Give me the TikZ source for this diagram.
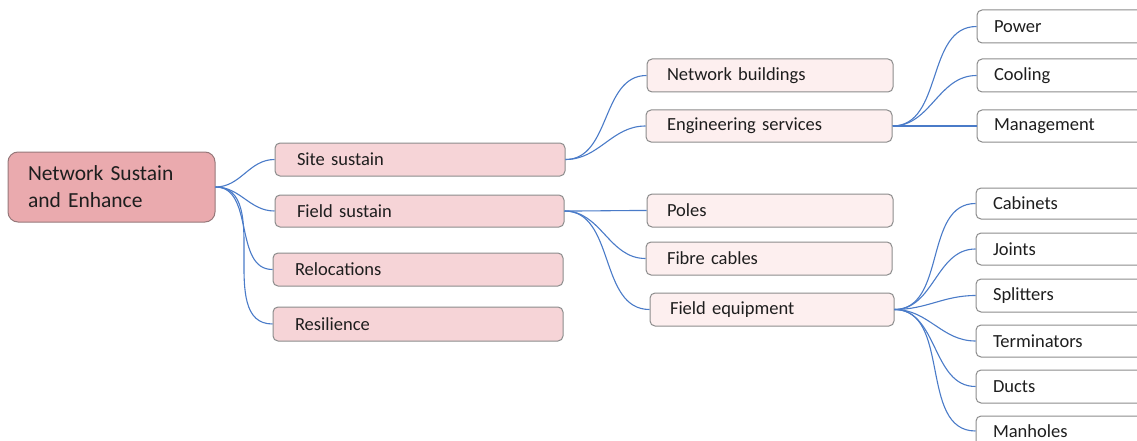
\documentclass[tikz,border=0pt]{standalone}
\usepackage{fontspec}
\setmainfont{Carlito}
\definecolor{rootfill}{RGB}{234,170,174}
\definecolor{rootdraw}{RGB}{150,120,122}
\definecolor{lonefill}{RGB}{246,212,215}
\definecolor{ltwofill}{RGB}{253,239,239}
\definecolor{boxdraw}{RGB}{140,140,140}
\definecolor{conncol}{RGB}{74,123,200}
\definecolor{txtcol}{RGB}{30,30,30}
\newcommand\boxnode[8]{%
  \pgfmathsetmacro\bw{#6-#4}\pgfmathsetmacro\bh{#7-#5}%
  \pgfmathsetmacro\bcx{(#4+#6)/2}\pgfmathsetmacro\bcy{(#5+#7)/2}%
  \pgfmathsetmacro\btw{#6-#4-2*#3}%
  \node[#2, inner xsep=#3pt, inner ysep=0pt, minimum width=\bw pt, minimum height=\bh pt, text width=\btw pt, align=left] (#1) at (\bcx,\bcy) {#8};}
\begin{document}
\begin{tikzpicture}[x=1pt,y=-1pt,
  basebox/.style={draw=boxdraw, line width=1pt, rounded corners=5pt, text=txtcol, font=\fontsize{18.5}{22}\selectfont},
  rootbox/.style={basebox, draw=rootdraw, fill=rootfill, rounded corners=10pt, font=\fontsize{21.5}{27}\selectfont},
  lonebox/.style={basebox, fill=lonefill},
  ltwobox/.style={basebox, fill=ltwofill},
  lthreebox/.style={basebox, fill=white},
  conn/.style={draw=conncol, line width=1.1pt}]
\useasboundingbox (0,0) rectangle (1137,441);
\clip (0,0) rectangle (1137,441);
\boxnode{root}{rootbox}{20}{8}{152}{215}{222}{Network Sustain\\and Enhance}
\boxnode{site}{lonebox}{22}{275}{143}{565}{176}{Site sustain}
\boxnode{field}{lonebox}{22}{275}{195}{564}{227}{Field sustain}
\boxnode{reloc}{lonebox}{22}{273}{253}{563}{286}{Relocations}
\boxnode{resil}{lonebox}{22}{273}{307}{563}{341}{Resilience}
\boxnode{netb}{ltwobox}{20}{647}{59}{893}{92}{Network buildings}
\boxnode{eng}{ltwobox}{21}{646}{110}{892}{142}{Engineering services}
\boxnode{poles}{ltwobox}{20}{647}{194}{893}{227}{Poles}
\boxnode{fibre}{ltwobox}{21}{646}{242}{892}{275}{Fibre cables}
\boxnode{fequip}{ltwobox}{20}{650}{293}{894}{326}{Field equipment}
\boxnode{power}{lthreebox}{17}{977}{10}{1190}{43}{Power}
\boxnode{cooling}{lthreebox}{17}{977}{59}{1190}{92}{Cooling}
\boxnode{mgmt}{lthreebox}{17}{977}{110}{1190}{142}{Management}
\boxnode{cab}{lthreebox}{17}{976}{188}{1190}{219}{Cabinets}
\boxnode{joints}{lthreebox}{17}{976}{233}{1190}{265}{Joints}
\boxnode{split}{lthreebox}{17}{976}{279}{1190}{312}{Splitters}
\boxnode{term}{lthreebox}{17}{976}{325}{1190}{357}{Terminators}
\boxnode{ducts}{lthreebox}{17}{976}{370}{1190}{403}{Ducts}
\boxnode{manh}{lthreebox}{17}{976}{416}{1190}{446}{Manholes}
\foreach \c in {site,field,reloc,resil}
  \draw[conn] (root.east) to[out=0,in=180] (\c.west);
\foreach \c in {netb,eng}
  \draw[conn] (site.east) to[out=0,in=180] (\c.west);
\foreach \c in {poles,fibre,fequip}
  \draw[conn] (field.east) to[out=0,in=180] (\c.west);
\foreach \c in {power,cooling,mgmt}
  \draw[conn] (eng.east) to[out=0,in=180] (\c.west);
\foreach \c in {cab,joints,split,term,ducts,manh}
  \draw[conn] (fequip.east) to[out=0,in=180] (\c.west);
\end{tikzpicture}
\end{document}
